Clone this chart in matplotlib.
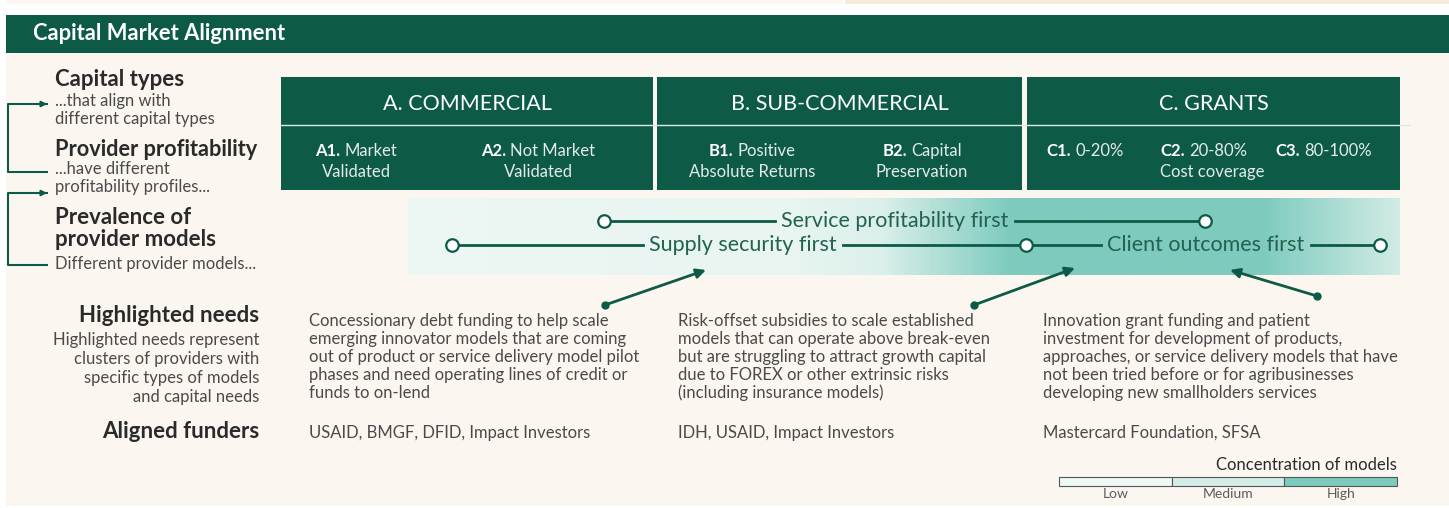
import numpy as np
import matplotlib
matplotlib.use('Agg')
import matplotlib.pyplot as plt
from matplotlib.patches import Rectangle
from matplotlib.colors import LinearSegmentedColormap

plt.rcParams['font.family'] = ['Lato', 'DejaVu Sans']

# ---- content ----
title = 'Capital Market Alignment'
capital_types = ['A. COMMERCIAL', 'B. SUB-COMMERCIAL', 'C. GRANTS']
sub_codes = ['A1.', 'A2.', 'B1.', 'B2.', 'C1.', 'C2.', 'C3.']
sub_line1 = ['Market', 'Not Market', 'Positive', 'Capital', '0-20%', '20-80%', '80-100%']
sub_line2 = ['Validated', 'Validated', 'Absolute Returns', 'Preservation', '', 'Cost coverage', '']

model_names = ['Service profitability first', 'Supply security first', 'Client outcomes first']

needs = [
    ['Concessionary debt funding to help scale',
     'emerging innovator models that are coming',
     'out of product or service delivery model pilot',
     'phases and need operating lines of credit or',
     'funds to on-lend'],
    ['Risk-offset subsidies to scale established',
     'models that can operate above break-even',
     'but are struggling to attract growth capital',
     'due to FOREX or other extrinsic risks',
     '(including insurance models)'],
    ['Innovation grant funding and patient',
     'investment for development of products,',
     'approaches, or service delivery models that have',
     'not been tried before or for agribusinesses',
     'developing new smallholders services'],
]
funders = ['USAID, BMGF, DFID, Impact Investors',
           'IDH, USAID, Impact Investors',
           'Mastercard Foundation, SFSA']
levels = ['Low', 'Medium', 'High']
level_colors = ['#eef8f5', '#d5ede7', '#7ccbbd']

# ---- styling ----
GREEN = '#0d5a47'
BG = '#fbf7f0'
DARK = '#2a2a2a'
GREY = '#4a4a4a'
HEAD = 16
BODY = 12

fig = plt.figure(figsize=(14.49, 5.08), dpi=100)
fig.patch.set_facecolor('white')
ax = fig.add_axes([0, 0, 1, 1])
ax.set_xlim(0, 1449)
ax.set_ylim(508, 0)
ax.axis('off')
r = fig.canvas.get_renderer()

# top strip, header bar, panel
ax.add_patch(Rectangle((6, 0), 837, 4, color='#fcf7ef', lw=0))
ax.add_patch(Rectangle((845, 0), 604, 4, color='#f6ecdc', lw=0))
ax.add_patch(Rectangle((6, 15), 1443, 38, color=GREEN, lw=0))
ax.add_patch(Rectangle((6, 53), 1443, 453, color=BG, lw=0))
ax.text(33, 34, title, color='white', fontsize=15.8, fontweight='bold', va='center')

# left labels
ax.text(55, 80, 'Capital types', fontsize=HEAD, fontweight='bold', color=DARK, va='center')
ax.text(55, 101, '...that align with', fontsize=BODY, color=GREY, va='center')
ax.text(55, 119, 'different capital types', fontsize=BODY, color=GREY, va='center')
ax.text(55, 150, 'Provider profitability', fontsize=15.7, fontweight='bold', color=DARK, va='center')
ax.text(55, 169, '...have different', fontsize=BODY, color=GREY, va='center')
ax.text(55, 187, 'profitability profiles...', fontsize=BODY, color=GREY, va='center')
ax.text(55, 218, 'Prevalence of', fontsize=HEAD, fontweight='bold', color=DARK, va='center')
ax.text(55, 240, 'provider models', fontsize=HEAD, fontweight='bold', color=DARK, va='center')
ax.text(55, 264, 'Different provider models...', fontsize=BODY, color=GREY, va='center')

for top, bot in [(104, 172), (193, 265)]:
    ax.plot([48, 8, 8, 48], [bot, bot, top, top], color=GREEN, lw=1.5, solid_capstyle='butt')
    ax.annotate('', xy=(50, top), xytext=(40, top),
                arrowprops=dict(arrowstyle='-|>', color=GREEN, lw=1.5, mutation_scale=8))

# capital type boxes
box_x = [(281, 653), (657, 1022), (1027, 1400)]
for (x0, x1), name in zip(box_x, capital_types):
    ax.add_patch(Rectangle((x0, 77), x1 - x0, 113, color=GREEN, lw=0))
    ax.text((x0 + x1) / 2, 104, name, color='white', fontsize=15.5, va='center', ha='center')
ax.plot([281, 1410], [125, 125], color='#dde9e4', lw=1)


def mixed(x, y, bold, rest, size, ha='center'):
    tb = ax.text(x, y, bold, fontsize=size, fontweight='bold', color='white', va='baseline')
    tr = ax.text(x, y, rest, fontsize=size, color='#e3ece8', va='baseline')
    wb = tb.get_window_extent(r).width
    wr = tr.get_window_extent(r).width
    gap = size * 0.35
    x0 = x - (wb + gap + wr) / 2 if ha == 'center' else x
    tb.set_x(x0)
    tr.set_x(x0 + wb + gap)


sub_x = [356, 538, 752, 922, 1085, 1160, 1324]
sub_ha = ['center', 'center', 'center', 'center', 'center', 'left', 'center']
for x, code, l1, l2, ha in zip(sub_x, sub_codes, sub_line1, sub_line2, sub_ha):
    mixed(x, 156, code, l1, BODY, ha)
    if l2:
        ax.text(x, 177, l2, fontsize=BODY, color='#e3ece8', va='baseline', ha=ha)

# concentration band
stops = [(408, '#edf7f4'), (790, '#e8f5f1'), (880, '#dcf0eb'), (1010, '#7ecbbe'),
         (1265, '#7ecbbe'), (1400, '#d0ebe5')]
pos = [(s[0] - 408) / (1400 - 408) for s in stops]
cmap = LinearSegmentedColormap.from_list('band', list(zip(pos, [s[1] for s in stops])))
ax.imshow(np.linspace(0, 1, 600)[None, :], cmap=cmap, aspect='auto',
          extent=[408, 1400, 275, 198], zorder=1)


def model_line(x0, x1, xc, y, label, circles=(True, True)):
    t = ax.text(xc, y, label, fontsize=15.5, color='#22624f', ha='center', va='center', zorder=3)
    w = t.get_window_extent(r).width
    gap = 6
    ax.plot([x0, xc - w / 2 - gap], [y, y], color=GREEN, lw=2, zorder=2)
    ax.plot([xc + w / 2 + gap, x1], [y, y], color=GREEN, lw=2, zorder=2)
    pts = [p for p, c in zip([x0, x1], circles) if c]
    ax.plot(pts, [y] * len(pts), 'o', ms=9, mfc='white', mec=GREEN, mew=1.6, zorder=4)


model_line(604, 1205, 895, 221, model_names[0])
model_line(452, 1026, 743, 245, model_names[1])
model_line(1026, 1380, 1206, 245, model_names[2], circles=(False, True))

# pointer arrows
for (tx, ty), (hx, hy) in [((605, 305), (706, 270)), ((974, 305), (1075, 268)),
                            ((1317, 296), (1230, 270))]:
    ax.annotate('', xy=(hx, hy), xytext=(tx, ty),
                arrowprops=dict(arrowstyle='-|>', color=GREEN, lw=2, mutation_scale=14,
                                shrinkA=0, shrinkB=0), zorder=3)
    ax.plot(tx, ty, 'o', ms=5, color=GREEN, zorder=4)

# highlighted needs
ax.text(259, 316, 'Highlighted needs', fontsize=HEAD, fontweight='bold', color=DARK, ha='right', va='center')
for i, line in enumerate(['Highlighted needs represent', 'clusters of providers with',
                          'specific types of models', 'and capital needs']):
    ax.text(259, 340 + i * 19, line, fontsize=BODY, color=GREY, ha='right', va='center')
ax.text(259, 432, 'Aligned funders', fontsize=HEAD, fontweight='bold', color=DARK, ha='right', va='center')

col_x = [309, 678, 1043]
for x, lines, fund in zip(col_x, needs, funders):
    for i, line in enumerate(lines):
        ax.text(x, 321 + i * 18, line, fontsize=BODY, color=GREY, va='center')
    ax.text(x, 433, fund, fontsize=BODY, color=GREY, va='center')

# legend
ax.text(1397, 465, 'Concentration of models', fontsize=12, color=DARK, ha='right', va='center')
seg = (1397 - 1059) / len(levels)
for i, (lab, c) in enumerate(zip(levels, level_colors)):
    x0 = 1059 + i * seg
    ax.add_patch(Rectangle((x0, 477), seg, 9, facecolor=c, edgecolor='#555555', lw=0.8))
    ax.text(x0 + seg / 2, 494, lab, fontsize=10, color='#5a5a5a', ha='center', va='center')

fig.savefig('out.png', dpi=100, facecolor='white')
